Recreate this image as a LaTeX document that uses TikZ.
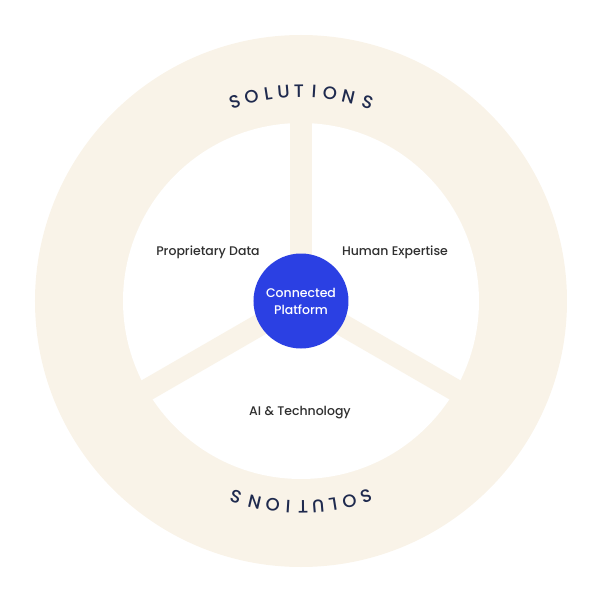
\documentclass[tikz,border=0pt]{standalone}
\usepackage{fontspec}
\setmainfont{Poppins}[UprightFont={* Medium}]
\definecolor{ringbeige}{HTML}{F9F3E8}
\definecolor{hubblue}{HTML}{2B40E3}
\definecolor{navy}{HTML}{1F2A4E}
\definecolor{labelgray}{HTML}{2F2F2F}
\begin{document}
\begin{tikzpicture}[x=1pt, y=1pt,
		area label/.style={text=labelgray, font=\fontsize{12.5}{14}\selectfont},
		ring letter/.style={text=navy, inner sep=0pt, font=\fontsize{18}{18}\selectfont}]
	\useasboundingbox (-301,-299) rectangle (299,301);

	\fill[ringbeige] (0,0) circle (266);
	\fill[white] (0,0) circle (178);

	\coordinate (O) at (0,0);
	\foreach \a in {90,210,330} {
			\coordinate (rim\a) at (\a:190);
			\draw[ringbeige, line width=22pt] (O) -- (rim\a);
		}

	\node[circle, fill=hubblue, minimum size=95pt, inner sep=0pt, text=white,
		align=center, font=\fontsize{12.5}{17}\selectfont] (hub) at (O)
	{Connected\\Platform};

	\node[area label] (data) at (-93, 49) {Proprietary Data};
	\node[area label] (human) at (94, 49) {Human Expertise};
	\node[area label] (tech) at (-1, -112) {AI \& Technology};

	% curved word, top and bottom of the ring
	\foreach \ch/\d [count=\i] in {S/18.4, O/13.6, L/9.0, U/4.8, T/0.6,
			I/-3.6, O/-7.9, N/-13.0, S/-18.5} {
			\node[ring letter, rotate=\d] (top\i) at (90+\d:210) {\ch};
			\node[ring letter, rotate=180+\d] (bot\i) at (270+\d:206) {\ch};
		}
\end{tikzpicture}
\end{document}
